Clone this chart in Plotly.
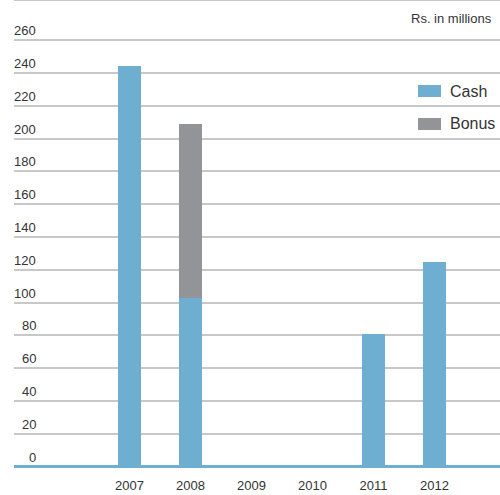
import plotly.graph_objects as go

years = [2007, 2008, 2009, 2010, 2011, 2012]
cash = [244, 103, 0, 0, 81, 125]
bonus = [0, 106, 0, 0, 0, 0]
y_ticks = [0, 20, 40, 60, 80, 100, 120, 140, 160, 180, 200, 220, 240, 260]

CASH_COLOR = "#6eaed0"
BONUS_COLOR = "#939498"
FONT = "Liberation Sans, Arial, Helvetica, sans-serif"
TEXT = "#333333"

fig = go.Figure()
fig.add_trace(go.Bar(x=years, y=cash, name="Cash", marker_color=CASH_COLOR,
                     marker_line_width=0, width=0.377, showlegend=False))
fig.add_trace(go.Bar(x=years, y=bonus, name="Bonus", marker_color=BONUS_COLOR,
                     marker_line_width=0, width=0.377, showlegend=False))

annotations = []
for t in y_ticks:
    annotations.append(dict(x=0, xref="paper", y=t, yref="y", xshift=24,
                            xanchor="right", yanchor="bottom", text=str(t),
                            showarrow=False, font=dict(size=13, color=TEXT, family=FONT)))
annotations.append(dict(x=1, xref="paper", y=1, yref="paper", xshift=-6, yshift=-18,
                        xanchor="right", yanchor="middle", text="Rs. in millions",
                        showarrow=False, font=dict(size=13, color=TEXT, family=FONT)))

# legend (swatches + labels)
H = 470.0
def py(p):
    return 1 - p / H
def px(p):
    return (p - 14) / 486.0

shapes = [
    dict(type="line", xref="paper", yref="paper", x0=0, x1=1, y0=1, y1=1,
         line=dict(color="#c8c8c8", width=2)),
]
for name, color, top in [("Cash", CASH_COLOR, 85), ("Bonus", BONUS_COLOR, 118)]:
    shapes.append(dict(type="rect", xref="paper", yref="paper",
                       x0=px(418), x1=px(441), y0=py(top + 12), y1=py(top),
                       fillcolor=color, line_width=0))
    annotations.append(dict(x=px(448), xref="paper", y=py(top + 6), yref="paper",
                            xanchor="left", yanchor="middle", text=name, showarrow=False,
                            font=dict(size=16, color=TEXT, family=FONT)))

fig.update_layout(
    width=500, height=495,
    margin=dict(l=14, r=0, t=0, b=25),
    barmode="stack",
    plot_bgcolor="white", paper_bgcolor="white",
    font=dict(family=FONT, color=TEXT, size=13),
    xaxis=dict(range=[2005.107, 2013.074], tickvals=years, ticktext=[str(y) for y in years],
               showgrid=False, zeroline=False, showline=False, ticks="",
               ticklabelstandoff=6,
               tickfont=dict(size=13, color=TEXT), automargin=False),
    yaxis=dict(range=[-2, 284.5], tickvals=y_ticks, showticklabels=False,
               showgrid=True, gridcolor="#c8c8c8", gridwidth=1.5,
               zeroline=True, zerolinecolor=CASH_COLOR, zerolinewidth=3,
               showline=False, ticks="", automargin=False),
    annotations=annotations,
    shapes=shapes,
    showlegend=False,
)

fig.write_html("out.html")
